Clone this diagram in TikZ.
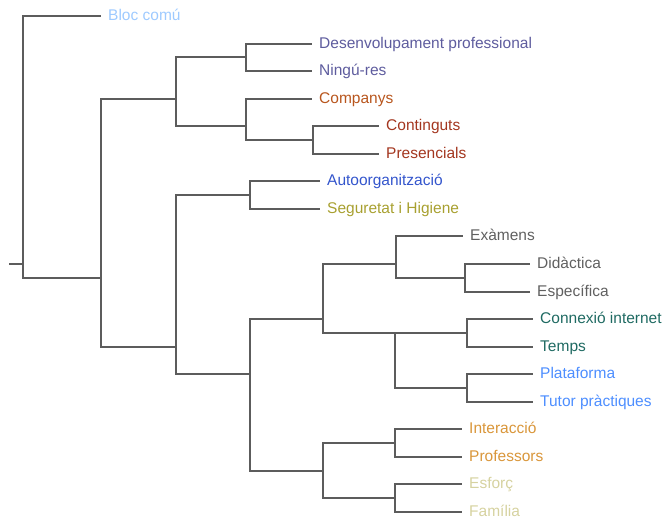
\documentclass[tikz,border=0pt]{standalone}
\usepackage{fontspec}
\setmainfont{Liberation Sans}

\definecolor{cbloc}{HTML}{9ECAFF}
\definecolor{cdesen}{HTML}{5E5C9E}
\definecolor{ccomp}{HTML}{B8561E}
\definecolor{ccont}{HTML}{A3361F}
\definecolor{cauto}{HTML}{3355CC}
\definecolor{csegu}{HTML}{A8A030}
\definecolor{cexam}{HTML}{606060}
\definecolor{cconn}{HTML}{1F6A62}
\definecolor{cplat}{HTML}{4D8EFF}
\definecolor{cinte}{HTML}{D9963A}
\definecolor{cesfo}{HTML}{D6D2A0}

\begin{document}
\begin{tikzpicture}[x=1pt, y=-1pt,
		branch/.style={draw=black!64, line width=2pt, line cap=rect},
		twig/.style={branch, line cap=butt, shorten >=7pt},
		leaf/.style={anchor=west, inner sep=0pt, text height=8pt, text depth=0pt,
			font=\fontsize{15.5}{18}\selectfont}]
		%%%%% START %%%%%
		\useasboundingbox (0,0) rectangle (663,517);
		
		% leaves
		\node[leaf, text=cbloc] (bloc) at (108, 16) {Bloc comú};
		\node[leaf, text=cdesen] (desen) at (319, 44) {Desenvolupament professional};
		\node[leaf, text=cdesen] (ningu) at (319, 71) {Ningú-res};
		\node[leaf, text=ccomp] (comp) at (319, 99) {Companys};
		\node[leaf, text=ccont] (cont) at (386, 126) {Continguts};
		\node[leaf, text=ccont] (pres) at (386, 154) {Presencials};
		\node[leaf, text=cauto] (auto) at (327, 181) {Autoorganització};
		\node[leaf, text=csegu] (segu) at (327, 209) {Seguretat i Higiene};
		\node[leaf, text=cexam] (exam) at (470, 236) {Exàmens};
		\node[leaf, text=cexam] (dida) at (537, 264) {Didàctica};
		\node[leaf, text=cexam] (espe) at (537, 292) {Específica};
		\node[leaf, text=cconn] (conn) at (540, 319) {Connexió internet};
		\node[leaf, text=cconn] (temp) at (540, 347) {Temps};
		\node[leaf, text=cplat] (plat) at (540, 374) {Plataforma};
		\node[leaf, text=cplat] (tuto) at (540, 402) {Tutor pràctiques};
		\node[leaf, text=cinte] (inte) at (469, 429) {Interacció};
		\node[leaf, text=cinte] (prof) at (469, 457) {Professors};
		\node[leaf, text=cesfo] (esfo) at (469, 484) {Esforç};
		\node[leaf, text=cesfo] (fami) at (469, 512) {Família};
		
		% inner joints
		\coordinate (stub) at (10, 264);
		\coordinate (root) at (23, 264);
		\coordinate (all) at (101, 278);
		\coordinate (upper) at (176, 99);
		\coordinate (prof1) at (246, 57);
		\coordinate (comp1) at (246, 126);
		\coordinate (cont1) at (313, 140);
		\coordinate (lower) at (176, 347);
		\coordinate (auto1) at (250, 195);
		\coordinate (rest) at (250, 374);
		\coordinate (virt) at (323, 319);
		\coordinate (exam1) at (396, 264);
		\coordinate (dida1) at (465, 278);
		\coordinate (tech) at (395, 333);
		\coordinate (conn1) at (467, 333);
		\coordinate (plat1) at (467, 388);
		\coordinate (pers) at (323, 471);
		\coordinate (inte1) at (395, 443);
		\coordinate (esfo1) at (395, 498);
		
		% branches
		\draw[branch] (stub) -- (root);
		\draw[twig] (root) |- (bloc.west);
		\draw[branch] (root) |- (all);
		
		\draw[branch] (all) |- (upper);
		\draw[branch] (all) |- (lower);
		
		\draw[branch] (upper) |- (prof1);
		\draw[branch] (upper) |- (comp1);
		\draw[twig] (prof1) |- (desen.west);
		\draw[twig] (prof1) |- (ningu.west);
		\draw[twig] (comp1) |- (comp.west);
		\draw[branch] (comp1) |- (cont1);
		\draw[twig] (cont1) |- (cont.west);
		\draw[twig] (cont1) |- (pres.west);
		
		\draw[branch] (lower) |- (auto1);
		\draw[branch] (lower) |- (rest);
		\draw[twig] (auto1) |- (auto.west);
		\draw[twig] (auto1) |- (segu.west);
		
		\draw[branch] (rest) |- (virt);
		\draw[branch] (rest) |- (pers);
		
		\draw[branch] (virt) |- (exam1);
		\draw[branch] (virt) |- (tech);
		\draw[twig] (exam1) |- (exam.west);
		\draw[branch] (exam1) |- (dida1);
		\draw[twig] (dida1) |- (dida.west);
		\draw[twig] (dida1) |- (espe.west);
		\draw[branch] (tech) |- (conn1);
		\draw[branch] (tech) |- (plat1);
		\draw[twig] (conn1) |- (conn.west);
		\draw[twig] (conn1) |- (temp.west);
		\draw[twig] (plat1) |- (plat.west);
		\draw[twig] (plat1) |- (tuto.west);
		
		\draw[branch] (pers) |- (inte1);
		\draw[branch] (pers) |- (esfo1);
		\draw[twig] (inte1) |- (inte.west);
		\draw[twig] (inte1) |- (prof.west);
		\draw[twig] (esfo1) |- (esfo.west);
		\draw[twig] (esfo1) |- (fami.west);
		%%%%% END %%%%%
	\end{tikzpicture}
\end{document}
